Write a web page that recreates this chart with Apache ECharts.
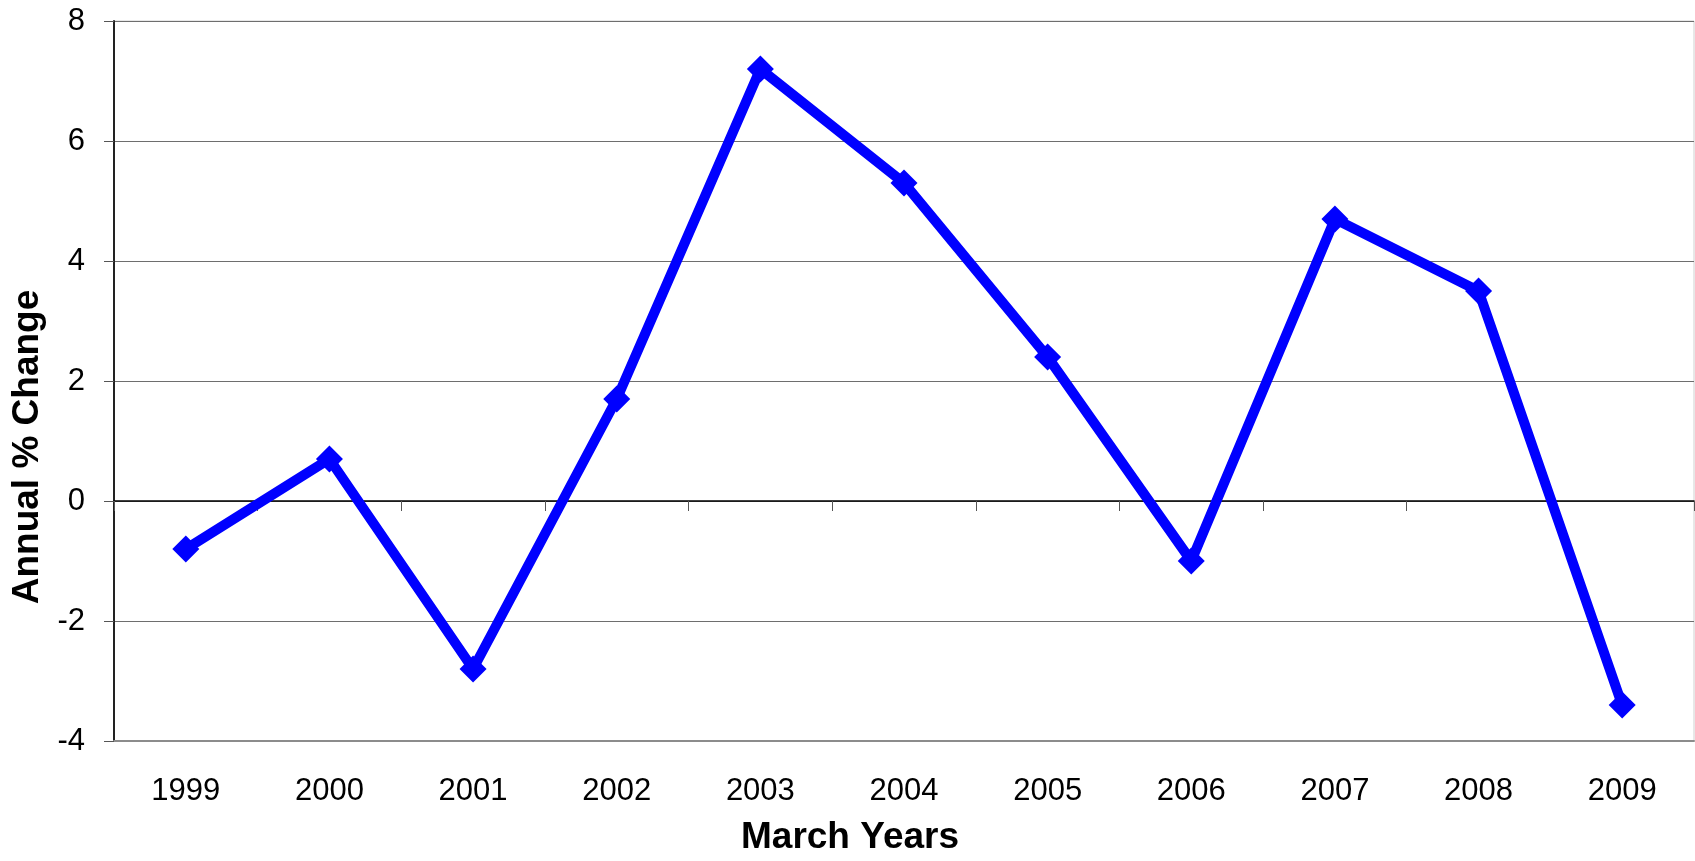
<!DOCTYPE html>
<html>
<head>
<meta charset="utf-8">
<script src="https://cdn.jsdelivr.net/npm/echarts@6/dist/echarts.min.js"></script>
<style>
html,body{margin:0;padding:0;background:#fff;}
#chart{width:1695px;height:861px;}
</style>
</head>
<body>
<div id="chart"></div>
<script>
const categories = ['1999','2000','2001','2002','2003','2004','2005','2006','2007','2008','2009'];
const values = [-0.8, 0.7, -2.8, 1.7, 7.2, 5.3, 2.4, -1.0, 4.7, 3.5, -3.4];
const yTicks = { min: -4, max: 8, interval: 2 };

const chart = echarts.init(document.getElementById('chart'));
const font = 'Liberation Sans, Arial, sans-serif';
chart.setOption({
  animation: false,
  backgroundColor: '#ffffff',
  grid: { left: 114, right: 1, top: 21, bottom: 117, show: true, borderColor: '#d0d0d0', borderWidth: 1 },
  xAxis: [{
    type: 'category',
    data: categories,
    position: 'bottom',
    boundaryGap: true,
    name: 'March Years',
    nameLocation: 'middle',
    nameGap: 78,
    nameTextStyle: { fontFamily: font, fontWeight: 'bold', fontSize: 37, color: '#000', padding: [0, 108, 0, 0] },
    axisLine: { onZero: false, lineStyle: { color: '#8c8c8c', width: 2 } },
    axisTick: { show: false },
    axisLabel: { fontFamily: font, fontSize: 31, color: '#000', margin: 35 }
  }, {
    type: 'category',
    data: categories,
    position: 'top',
    boundaryGap: true,
    axisLine: { onZero: true, lineStyle: { color: '#000', width: 1.5 } },
    axisTick: { show: true, inside: true, length: 10, lineStyle: { color: '#555', width: 1 } },
    axisLabel: { show: false }
  }],
  yAxis: {
    type: 'value',
    min: yTicks.min,
    max: yTicks.max,
    interval: yTicks.interval,
    name: 'Annual % Change',
    nameLocation: 'middle',
    nameGap: 63,
    nameRotate: 90,
    nameTextStyle: { fontFamily: font, fontWeight: 'bold', fontSize: 37, color: '#000', padding: [0, 132, 0, 0] },
    axisLine: { show: true, lineStyle: { color: '#222', width: 2 } },
    axisTick: { show: true, length: 10, lineStyle: { color: '#555', width: 1 } },
    axisLabel: { fontFamily: font, fontSize: 31, color: '#000', margin: 29 },
    splitLine: { show: true, lineStyle: { color: '#6e6e6e', width: 1 } }
  },
  series: [{
    type: 'line',
    xAxisIndex: 0,
    data: values,
    symbol: 'diamond',
    symbolSize: 27,
    showSymbol: true,
    lineStyle: { color: '#0000ff', width: 10 },
    itemStyle: { color: '#0000ff' }
  }]
});
</script>
</body>
</html>
